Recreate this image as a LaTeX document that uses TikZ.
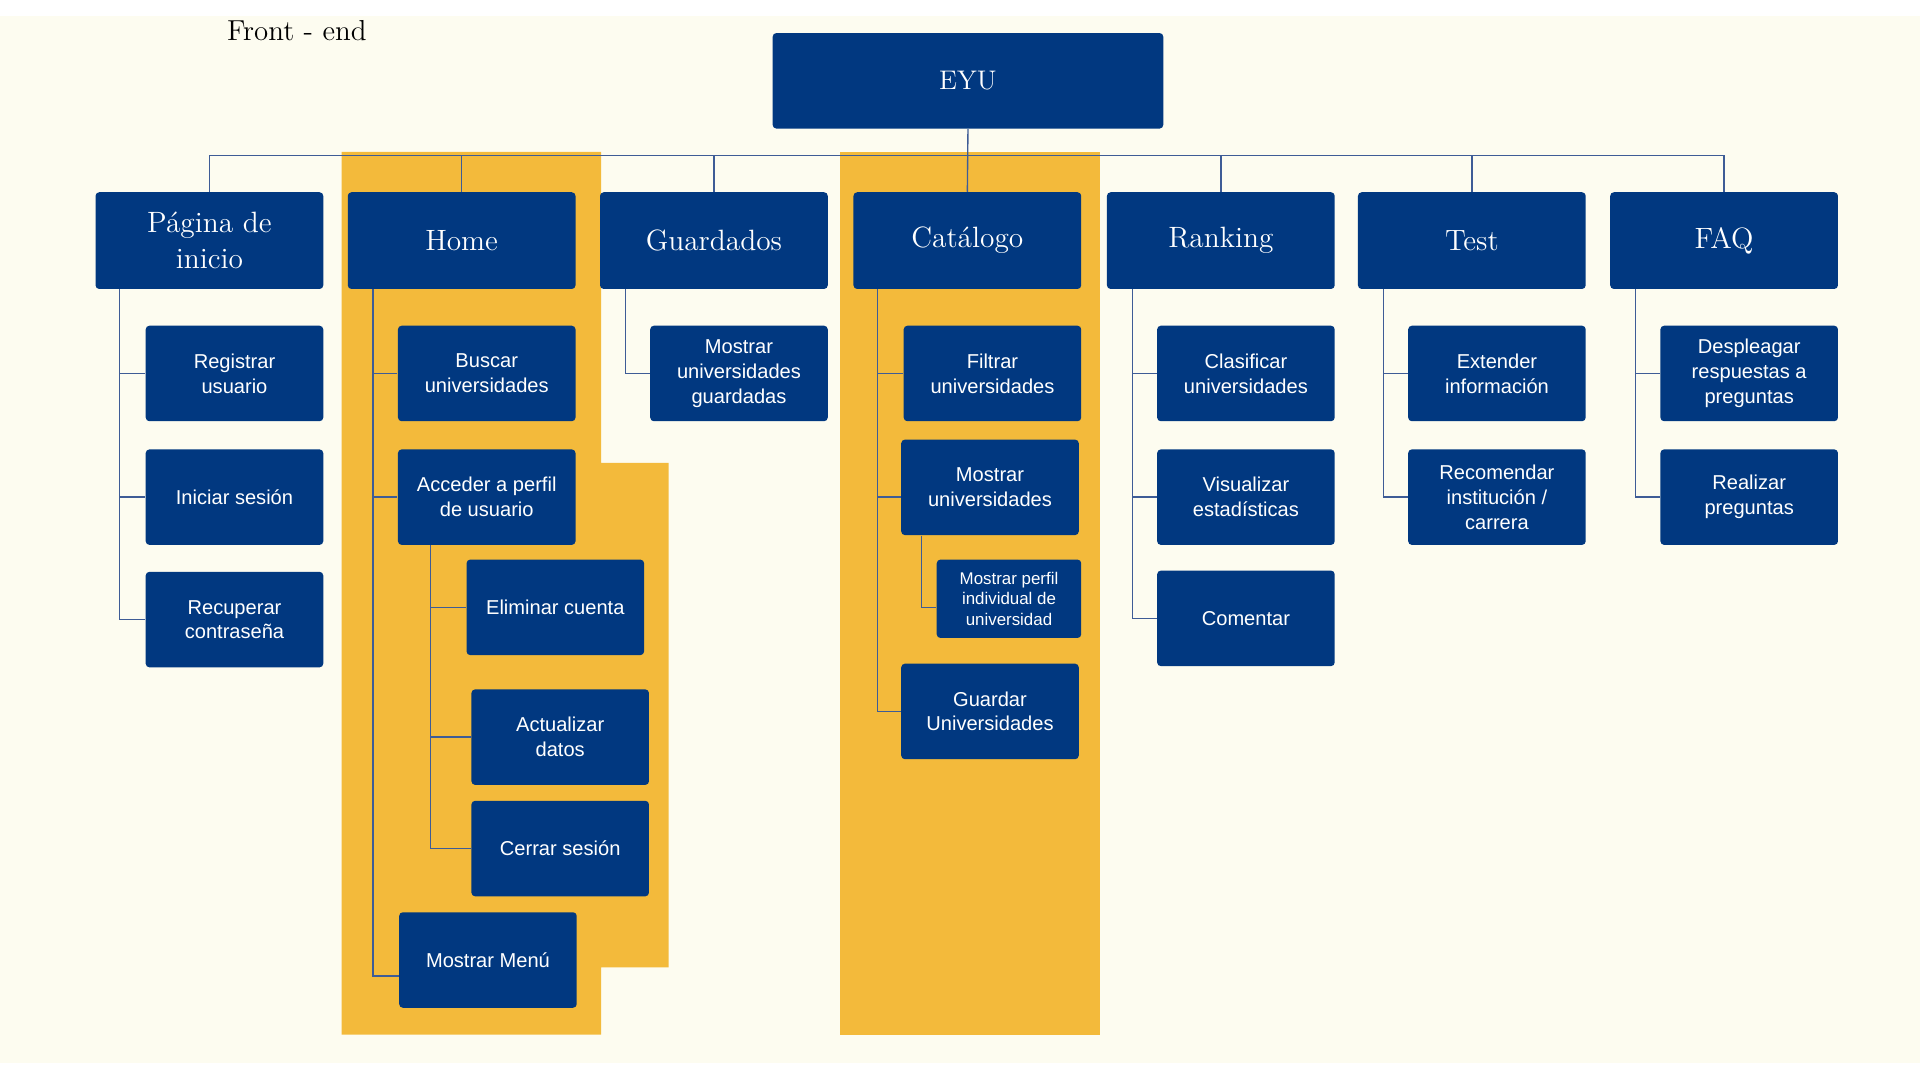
\documentclass[tikz,border=0pt]{standalone}
\usepackage{fontspec}
\newfontfamily\subfont{Liberation Sans}
\usetikzlibrary{positioning}

\definecolor{navy}{RGB}{1,56,128}
\definecolor{mustard}{RGB}{243,186,59}
\definecolor{cream}{RGB}{253,252,240}
\definecolor{wire}{RGB}{62,92,150}

\tikzset{
    head/.style={fill=navy, rounded corners=1.5pt, text=white,
        minimum width=93pt, minimum height=39.5pt, align=center,
        font=\fontsize{12}{14.7}\selectfont},
    sub/.style={fill=navy, rounded corners=1.5pt, text=white, inner sep=1pt,
        minimum width=72.5pt, minimum height=39pt, align=center,
        font=\subfont\fontsize{8.2}{10.1}\selectfont},
    link/.style={draw=wire, line width=0.55pt},
    elbow/.style={to path={|- (\tikztotarget)}},
}

\begin{document}
\begin{tikzpicture}[x=0.5pt,y=-0.5pt]
    \useasboundingbox (0,0) rectangle (1568,882);
    \fill[white] (0,0) rectangle (1568,882);
    \fill[cream] (0,13) rectangle (1568,868);

    %% highlighted columns
    \fill[mustard] (279,124) -- (491,124) -- (491,378) -- (546,378)
        -- (546,790) -- (491,790) -- (491,845) -- (279,845) -- cycle;
    \fill[mustard] (686,124) rectangle (898,845);

    \node[anchor=base west, inner sep=0pt, font=\fontsize{11.8}{13}\selectfont] (titulo) at (185,33) {Front - end};

    \node[head, minimum width=159.5pt, minimum height=39pt,
        font=\fontsize{11}{13}\selectfont] (eyu) at (790.5,66) {EYU};

    \foreach \n/\x/\t in {pagina/171/{Página de\\inicio}, home/377/Home,
            guardados/583/Guardados, catalogo/790/Catálogo, ranking/997/Ranking,
            test/1202/Test, faq/1408/FAQ}
        \node[head] (\n) at (\x,196.5) {\t};

    \foreach \n/\x/\y/\t in {registrar/191.5/305/{Registrar\\usuario},
            iniciar/191.5/406/{Iniciar sesión},
            recuperar/191.5/506/{Recuperar\\contraseña},
            buscar/397.5/305/{Buscar\\universidades},
            acceder/397.5/406/{Acceder a perfil\\de usuario},
            eliminar/453.5/496/{Eliminar cuenta},
            actualizar/457.5/602/{Actualizar\\datos},
            cerrar/457.5/693/{Cerrar sesión},
            menu/398.5/784/{Mostrar Menú},
            guardadas/603.5/305/{Mostrar\\universidades\\guardadas},
            filtrar/810.5/305/{Filtrar\\universidades},
            mostraru/808.5/398/{Mostrar\\universidades},
            guardar/808.5/581/{Guardar\\Universidades},
            clasificar/1017.5/305/{Clasificar\\universidades},
            visualizar/1017.5/406/{Visualizar\\estadísticas},
            comentar/1017.5/505/{Comentar},
            extender/1222.5/305/{Extender\\información},
            recomendar/1222.5/406/{Recomendar\\institución /\\carrera},
            desplegar/1428.5/305/{Despleagar\\respuestas a\\preguntas},
            realizar/1428.5/406/{Realizar\\preguntas}}
        \node[sub] (\n) at (\x,\y) {\t};

    \node[sub, minimum width=59pt, minimum height=32pt,
        font=\subfont\fontsize{6.9}{8.4}\selectfont] (perfil) at (824,489)
        {Mostrar perfil\\individual de\\universidad};

    %% top bus
    \coordinate (bus) at (790,127);
    \draw[link] (pagina.north) |- (bus) -| (faq.north);
    \path[link]
        (eyu.south) edge (catalogo.north)
        (home.north) edge (home.north |- bus)
        (guardados.north) edge (guardados.north |- bus)
        (ranking.north) edge (ranking.north |- bus)
        (test.north) edge (test.north |- bus)
    ;

    %% branches
    \path[link]
        ([xshift=10pt]pagina.south west) edge[elbow] (registrar.west)
                                         edge[elbow] (iniciar.west)
                                         edge[elbow] (recuperar.west)
        ([xshift=10.5pt]home.south west) edge[elbow] (buscar.west)
                                         edge[elbow] (acceder.west)
                                         edge[elbow] ([yshift=-6.5pt]menu.west)
        ([xshift=13.5pt]acceder.south west) edge[elbow] (eliminar.west)
                                            edge[elbow] (actualizar.west)
                                            edge[elbow] (cerrar.west)
        ([xshift=10.5pt]guardados.south west) edge[elbow] (guardadas.west)
        ([xshift=10pt]catalogo.south west) edge[elbow] (filtrar.west)
                                           edge[elbow] ([yshift=-4pt]mostraru.west)
                                           edge[elbow] (guardar.west)
        ([xshift=8.5pt]mostraru.south west) edge[elbow] ([yshift=-3.5pt]perfil.west)
        ([xshift=10.5pt]ranking.south west) edge[elbow] (clasificar.west)
                                            edge[elbow] (visualizar.west)
                                            edge[elbow] (comentar.west)
        ([xshift=10.5pt]test.south west) edge[elbow] (extender.west)
                                         edge[elbow] (recomendar.west)
        ([xshift=10.5pt]faq.south west) edge[elbow] (desplegar.west)
                                        edge[elbow] (realizar.west)
    ;
\end{tikzpicture}
\end{document}
